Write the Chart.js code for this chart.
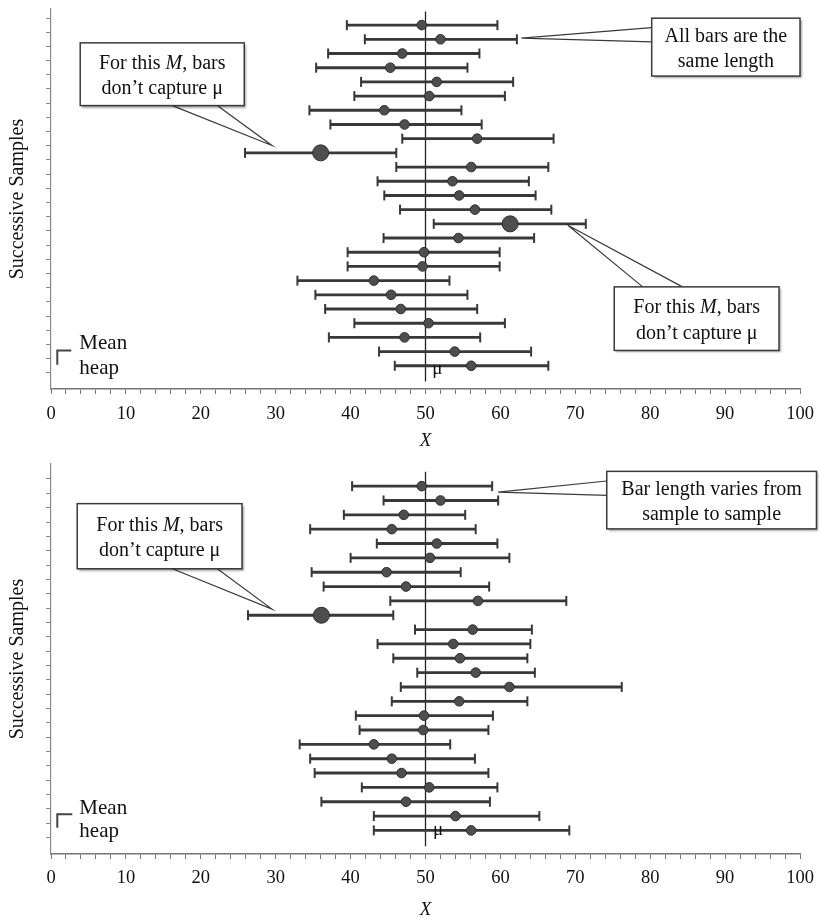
<!DOCTYPE html>
<html>
<head>
<meta charset="utf-8">
<script src="https://cdn.jsdelivr.net/npm/chart.js@4.4.0/dist/chart.umd.min.js"></script>
<style>
  html, body { margin: 0; padding: 0; background: #fff; }
  #wrap { position: relative; width: 820px; height: 919px; }
  canvas { position: absolute; left: 0; }
</style>
</head>
<body>
<div id="wrap">
  <canvas id="top-chart" width="820" height="460" style="top:0"></canvas>
  <canvas id="bottom-chart" width="820" height="464" style="top:455px"></canvas>
</div>
<script>
(function () {
  'use strict';

  // upper panel: fixed-length bars
  var topMeans = [49.5, 52.0, 46.9, 45.3, 51.5, 50.5, 44.5, 47.2, 56.9, 36.0, 56.1, 53.6, 54.5,
                  56.6, 61.3, 54.4, 49.8, 49.6, 43.1, 45.4, 46.7, 50.4, 47.2, 53.9, 56.1];
  var topLow = [39.5, 41.9, 37.0, 35.4, 41.4, 40.5, 34.5, 37.3, 46.9, 25.9, 46.1, 43.6, 44.5,
                46.6, 51.1, 44.4, 39.6, 39.6, 32.9, 35.3, 36.6, 40.5, 37.1, 43.8, 45.9];
  var topHigh = [59.6, 62.2, 57.2, 55.6, 61.7, 60.6, 54.8, 57.5, 67.1, 46.1, 66.4, 63.8, 64.7,
                 66.8, 71.4, 64.5, 59.9, 59.9, 53.2, 55.6, 56.9, 60.6, 57.3, 64.1, 66.4];
  var topMiss = [10, 15];

  // lower panel: bar length varies
  var botMeans = [49.5, 52.0, 47.1, 45.5, 51.5, 50.6, 44.8, 47.4, 57.0, 36.1, 56.3, 53.7, 54.6,
                  56.7, 61.2, 54.5, 49.8, 49.7, 43.1, 45.5, 46.8, 50.5, 47.4, 54.0, 56.1];
  var botLow = [40.2, 44.4, 39.1, 34.6, 43.5, 40.0, 34.8, 36.4, 45.3, 26.3, 48.6, 43.6, 45.7,
                48.9, 46.7, 45.5, 40.7, 41.2, 33.2, 34.6, 35.2, 41.5, 36.1, 43.1, 43.1];
  var botHigh = [58.9, 59.7, 55.3, 56.7, 59.6, 61.2, 54.7, 58.5, 68.8, 45.7, 64.2, 64.0, 63.6,
                 64.6, 76.2, 63.6, 59.0, 58.4, 53.3, 56.6, 58.4, 59.6, 58.6, 65.2, 69.2];
  var botMiss = [10];

  var mu = 50;
  var xTicks = [0, 10, 20, 30, 40, 50, 60, 70, 80, 90, 100];

  var SERIF = '"Liberation Serif", "Times New Roman", serif';
  var INK = '#111';
  var BAR = '#383838';

  var topNotes = {
    callouts: [
      { box: [80.2, 100.0, 0.51, 4.59], base: [[80.2, 1.18], [80.2, 2.18]], tip: [62.8, 1.92],
        lines: ['All bars are the', 'same length'] },
      { box: [3.9, 25.8, 2.25, 6.67], base: [[16.2, 6.67], [22.2, 6.67]], tip: [29.5, 9.48],
        lines: ['For this *M*, bars', 'don\u2019t capture \u03bc'] },
      { box: [75.2, 97.2, 19.44, 23.92], base: [[79.0, 19.44], [84.3, 19.44]], tip: [69.0, 15.1],
        lines: ['For this *M*, bars', 'don\u2019t capture \u03bc'] }
    ],
    bracket: [[0.84, 24.92], [0.84, 23.92], [2.71, 23.92]],
    mean: [3.78, 23.85],
    heap: [3.78, 25.6],
    muLabel: [50.9, 25.6]
  };

  var botNotes = {
    callouts: [
      { box: [74.2, 102.2, -0.03, 3.98], base: [[74.2, 0.64], [74.2, 1.64]], tip: [59.7, 1.42],
        lines: ['Bar length varies from', 'sample to sample'] },
      { box: [3.5, 25.5, 2.22, 6.76], base: [[16.2, 6.76], [22.2, 6.76]], tip: [29.5, 9.57],
        lines: ['For this *M*, bars', 'don\u2019t capture \u03bc'] }
    ],
    bracket: [[0.84, 24.81], [0.84, 23.87], [2.84, 23.87]],
    mean: [3.78, 23.87],
    heap: [3.78, 25.47],
    muLabel: [51.0, 25.3]
  };

  // draws a line of text where *...* parts are italic, centred on cx
  function richText(ctx, str, cx, y, size) {
    var parts = str.split('*');
    var w = 0;
    parts.forEach(function (p, i) {
      ctx.font = (i % 2 ? 'italic ' : '') + size + 'px ' + SERIF;
      w += ctx.measureText(p).width;
    });
    var x = cx - w / 2;
    parts.forEach(function (p, i) {
      ctx.font = (i % 2 ? 'italic ' : '') + size + 'px ' + SERIF;
      ctx.fillText(p, x, y);
      x += ctx.measureText(p).width;
    });
  }

  var notesPlugin = {
    id: 'notes',
    afterDraw: function (chart, args, opts) {
      var ctx = chart.ctx;
      var xs = chart.scales.x, ys = chart.scales.y;
      function P(pt) { return [xs.getPixelForValue(pt[0]), ys.getPixelForValue(pt[1])]; }
      ctx.save();
      ctx.textAlign = 'left';
      ctx.textBaseline = 'alphabetic';

      opts.callouts.forEach(function (c) {
        var tl = P([c.box[0], c.box[2]]), br = P([c.box[1], c.box[3]]);
        var b1 = P(c.base[0]), b2 = P(c.base[1]), tip = P(c.tip);
        ctx.strokeStyle = '#3a3a3a';
        ctx.lineWidth = 1.2;
        ctx.beginPath();
        ctx.moveTo(b1[0], b1[1]);
        ctx.lineTo(tip[0], tip[1]);
        ctx.lineTo(b2[0], b2[1]);
        ctx.stroke();

        ctx.save();
        ctx.shadowColor = 'rgba(0,0,0,0.35)';
        ctx.shadowOffsetX = 2;
        ctx.shadowOffsetY = 2;
        ctx.shadowBlur = 2;
        ctx.fillStyle = '#fff';
        ctx.fillRect(tl[0], tl[1], br[0] - tl[0], br[1] - tl[1]);
        ctx.restore();
        ctx.lineWidth = 1.5;
        ctx.strokeRect(tl[0], tl[1], br[0] - tl[0], br[1] - tl[1]);

        var cx = (tl[0] + br[0]) / 2, cy = (tl[1] + br[1]) / 2;
        ctx.fillStyle = INK;
        richText(ctx, c.lines[0], cx, cy - 5.5, 20);
        richText(ctx, c.lines[1], cx, cy + 20, 20);
      });

      var br = opts.bracket.map(P);
      ctx.strokeStyle = '#444';
      ctx.lineWidth = 2;
      ctx.beginPath();
      ctx.moveTo(br[0][0], br[0][1]);
      ctx.lineTo(br[1][0], br[1][1]);
      ctx.lineTo(br[2][0], br[2][1]);
      ctx.stroke();

      ctx.fillStyle = INK;
      ctx.font = '21px ' + SERIF;
      var m = P(opts.mean), h = P(opts.heap), u = P(opts.muLabel);
      ctx.fillText('Mean', m[0], m[1]);
      ctx.fillText('heap', h[0], h[1]);
      ctx.font = '19px ' + SERIF;
      ctx.fillText('\u03bc', u[0], u[1]);
      ctx.restore();
    }
  };

  function makePanel(id, means, low, high, miss, yMin, yMax, muTop, padTop, axisH, tickPad, titlePad, notes) {
    var rows = means.map(function (m, i) { return i + 1; });
    var radii = rows.map(function (r) { return miss.indexOf(r) >= 0 ? 8 : 4.8; });

    new Chart(document.getElementById(id).getContext('2d'), {
      type: 'scatter',
      data: {
        datasets: [
          {
            label: 'Mean',
            data: means.map(function (m, i) { return { x: m, y: rows[i] }; }),
            pointRadius: radii,
            pointBackgroundColor: '#4e4e4e',
            pointBorderColor: '#2e2e2e',
            pointBorderWidth: 1
          },
          {
            label: 'Caps',
            data: low.map(function (v, i) { return { x: v, y: rows[i] }; })
              .concat(high.map(function (v, i) { return { x: v, y: rows[i] }; })),
            pointStyle: 'line',
            rotation: 90,
            pointRadius: 5,
            borderColor: BAR,
            borderWidth: 2
          },
          {
            type: 'bar',
            label: 'Interval',
            indexAxis: 'y',
            data: low.map(function (v, i) { return { x: [v, high[i]], y: rows[i] }; }),
            backgroundColor: BAR,
            barThickness: 2.2,
            borderWidth: 0
          },
          {
            label: 'mu',
            data: [{ x: mu, y: muTop }, { x: mu, y: yMax }],
            showLine: true,
            pointRadius: 0,
            borderColor: '#222',
            borderWidth: 1.3,
            clip: false
          }
        ]
      },
      options: {
        responsive: false,
        animation: false,
        events: [],
        layout: { padding: { top: padTop, right: 20, left: 0, bottom: 0 } },
        scales: {
          x: {
            type: 'linear',
            min: 0,
            max: 100,
            afterFit: function (s) { s.height = axisH; s.paddingLeft = 0; s.paddingRight = 0; },
            afterBuildTicks: function (s) {
              var t = [];
              for (var v = 0; v <= 100; v += 2) t.push({ value: v });
              s.ticks = t;
            },
            ticks: {
              autoSkip: false,
              maxRotation: 0,
              padding: tickPad,
              color: INK,
              font: { family: SERIF, size: 18.5 },
              callback: function (v) { return xTicks.indexOf(v) >= 0 ? String(v) : ''; }
            },
            grid: { drawOnChartArea: false, tickLength: 5, tickColor: '#777', tickWidth: 1 },
            border: { color: '#777', width: 1.5 },
            title: {
              display: true,
              text: 'X',
              color: INK,
              padding: { top: 0, bottom: titlePad },
              font: { family: SERIF, size: 19, style: 'italic', lineHeight: 1 }
            }
          },
          y: {
            type: 'linear',
            min: yMin,
            max: yMax,
            reverse: true,
            afterFit: function (s) { s.width = 51; s.paddingTop = 0; s.paddingBottom = 0; },
            afterBuildTicks: function (s) {
              s.ticks = rows.map(function (r) { return { value: r }; });
            },
            ticks: { display: false },
            grid: { drawOnChartArea: false, tickLength: 5, tickColor: '#888', tickWidth: 1 },
            border: { color: '#888', width: 1.2 },
            title: {
              display: true,
              text: 'Successive Samples',
              color: INK,
              padding: { top: 6, bottom: 0 },
              font: { family: SERIF, size: 20, lineHeight: 1.15 }
            }
          }
        },
        plugins: {
          legend: { display: false },
          tooltip: { enabled: false },
          notes: notes
        }
      },
      plugins: [notesPlugin]
    });
  }

  makePanel('top-chart', topMeans, topLow, topHigh, topMiss, 0.4, 26.1, 0.04, 5, 71, 9, 10, topNotes);
  makePanel('bottom-chart', botMeans, botLow, botHigh, botMiss, 0, 26.1, 0, 8, 65, 8, 0, botNotes);
})();
</script>
</body>
</html>
